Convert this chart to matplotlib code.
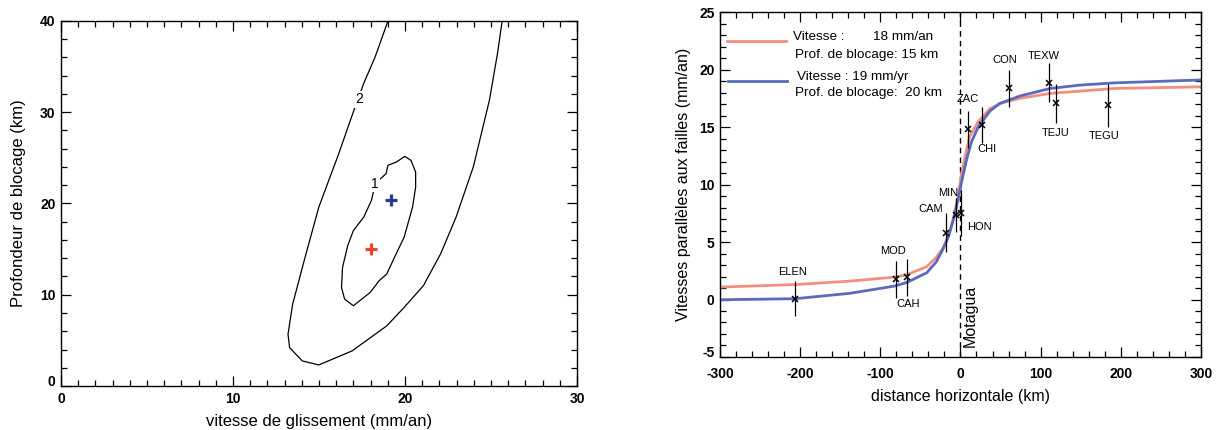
import matplotlib
matplotlib.use('Agg')
import matplotlib.pyplot as plt
import matplotlib.transforms as mtransforms
from matplotlib.ticker import MultipleLocator

plt.rcParams['font.family'] = ['Liberation Sans', 'DejaVu Sans']
plt.rcParams['axes.unicode_minus'] = False

# --- left panel: misfit contours, slip rate vs locking depth ---
contour2_x = [19.01, 18.27, 17.60, 16.93, 16.15, 14.99, 14.14, 13.47, 13.20, 13.29,
              14.03, 14.99, 16.93, 18.94, 19.95, 21.07, 22.07, 22.97, 23.97, 24.91,
              25.38, 25.65]
contour2_y = [40.0, 36.08, 33.15, 29.67, 25.46, 19.6, 13.74, 8.97, 5.68, 4.21,
              2.75, 2.31, 3.85, 6.59, 8.61, 10.99, 14.47, 18.5, 23.99, 31.32,
              36.45, 40.0]
contour1_x = [18.27, 18.90, 19.01, 19.50, 19.99, 20.35, 20.62, 20.62, 20.44, 19.95,
              19.39, 18.94, 18.50, 17.98, 17.00, 16.49, 16.31, 16.37, 16.67, 17.00,
              17.60, 18.05, 18.27]
contour1_y = [22.2, 23.26, 24.18, 24.54, 25.16, 24.72, 23.44, 21.79, 19.6, 16.3,
              14.1, 12.27, 11.54, 10.26, 8.79, 9.52, 10.8, 13.0, 15.38, 17.03,
              18.5, 20.33, 22.2]
best_rate = [18.0, 19.2]
best_depth = [15.0, 20.4]

# --- right panel: fault-parallel velocities ---
model15_x = [-300, -206, -138, -82, -67, -42, -30, -22, -15, -9, -3, 1, 5.6,
             11.6, 22, 36.8, 49, 74, 112, 149, 193, 300]
model15_v = [1.08, 1.3, 1.6, 1.95, 2.15, 2.86, 3.67, 4.44, 5.5, 7.0, 9.0, 10.8, 12.4,
             14.2, 15.45, 16.6, 17.05, 17.5, 17.93, 18.13, 18.36, 18.5]
model20_x = [-300, -206, -138, -82, -67, -42, -30, -22, -15, -9, -3, 1, 7.5,
             13.7, 22, 36.8, 49, 74, 112, 149, 193, 300]
model20_v = [-0.02, 0.07, 0.54, 1.17, 1.48, 2.33, 3.29, 4.36, 5.46, 6.91, 8.65, 10.1,
             12.13, 13.7, 15.0, 16.4, 17.05, 17.7, 18.36, 18.65, 18.85, 19.1]

station_names = ['ELEN', 'MOD', 'CAH', 'CAM', 'MIN', 'HON', 'ZAC', 'CHI',
                 'CON', 'TEXW', 'TEJU', 'TEGU']
station_x = [-206.4, -81.0, -66.3, -18.1, -6.0, 0.6, 9.7, 26.4, 60.9, 110.8, 119.1, 183.6]
station_v = [0.07, 1.75, 1.93, 5.81, 7.35, 7.5, 14.8, 15.17, 18.36, 18.85, 17.06, 16.9]
station_err = [1.52, 1.6, 1.6, 1.7, 1.5, 2.0, 1.6, 1.55, 1.57, 1.7, 1.68, 1.85]

red = '#f29080'
blue = '#5a6bbd'

fig = plt.figure(figsize=(12.17, 4.30), dpi=100)

def idl_axes(ax, xmaj, xmin, ymaj, ymin, xpad=4):
    ax.xaxis.set_major_locator(MultipleLocator(xmaj))
    ax.xaxis.set_minor_locator(MultipleLocator(xmin))
    ax.yaxis.set_major_locator(MultipleLocator(ymaj))
    ax.yaxis.set_minor_locator(MultipleLocator(ymin))
    ax.tick_params(which='both', direction='in', top=True, right=True, width=0.9)
    ax.tick_params(which='major', length=7.5, labelsize=10, pad=4)
    ax.tick_params(axis='x', which='major', pad=xpad)
    ax.tick_params(which='minor', length=4)
    for lab in ax.get_xticklabels() + ax.get_yticklabels():
        lab.set_fontweight('bold')
    for sp in ax.spines.values():
        sp.set_linewidth(1.0)

# left panel
ax1 = fig.add_axes([0.0501, 0.1023, 0.424, 0.849])
ax1.plot(contour2_x, contour2_y, color='black', lw=0.9)
ax1.plot(contour1_x, contour1_y, color='black', lw=0.9)
ax1.text(17.31, 31.4, '2', fontsize=10, ha='center', va='center',
         bbox=dict(facecolor='white', edgecolor='none', pad=1))
ax1.text(18.27, 22.16, '1', fontsize=10, ha='center', va='center',
         bbox=dict(facecolor='white', edgecolor='none', pad=1))
ax1.plot(best_rate[0], best_depth[0], marker='+', ms=8.5, mew=2.3, color='#e8452c')
ax1.plot(best_rate[1], best_depth[1], marker='+', ms=8.5, mew=2.3, color='#2b3990')
ax1.set_xlim(0, 30)
ax1.set_ylim(0, 40)
idl_axes(ax1, 10, 1, 10, 2)
ax1.set_xlabel('vitesse de glissement (mm/an)', fontsize=12, labelpad=6)
ax1.set_ylabel('Profondeur de blocage (km)', fontsize=12, labelpad=10)

# right panel
ax2 = fig.add_axes([0.5916, 0.1698, 0.3952, 0.802])
ax2.axvline(0, color='black', lw=1, ls=(0, (4, 3)))
ax2.plot(model15_x, model15_v, color=red, lw=2)
ax2.plot(model20_x, model20_v, color=blue, lw=2)
ax2.errorbar(station_x, station_v, yerr=station_err, fmt='x', color='black',
             ms=4.5, mew=1.1, elinewidth=0.9, capsize=0, zorder=5)

label_offset = {'ELEN': (-2.6, 2.35), 'MOD': (-3, 2.5), 'CAH': (1.3, -2.3),
                'CAM': (-19, 2.1), 'MIN': (-9, 1.9), 'HON': (23.7, -1.2),
                'ZAC': (0, 2.6), 'CHI': (6.6, -2.1), 'CON': (-6, 2.5),
                'TEXW': (-7, 2.35), 'TEJU': (-1, -2.56), 'TEGU': (-4.6, -2.66)}
for name, sx, sv in zip(station_names, station_x, station_v):
    dx, dy = label_offset[name]
    ax2.text(sx + dx, sv + dy, name, fontsize=8, ha='center', va='center')

ax2.text(12, -1.45, 'Motagua', rotation=90, fontsize=11.5, ha='center', va='center')

# hand-made legend
ax2.plot([-291.6, -217.7], [22.5, 22.5], color=red, lw=2)
ax2.text(-209.3, 22.8, 'Vitesse :', fontsize=9.7, va='center')
ax2.text(-109.5, 22.8, '18 mm/an', fontsize=9.7, va='center')
ax2.text(-206.4, 21.3, 'Prof. de blocage: 15 km', fontsize=9.7, va='center')
ax2.plot([-289.6, -216.8], [19.03, 19.03], color=blue, lw=2)
ax2.text(-204.3, 19.37, 'Vitesse : 19 mm/yr', fontsize=9.7, va='center')
ax2.text(-206.4, 17.93, 'Prof. de blocage:  20 km', fontsize=9.7, va='center')

ax2.set_xlim(-300, 300)
ax2.set_ylim(-5, 25)
idl_axes(ax2, 100, 20, 5, 1, xpad=7)
ax2.set_xlabel('distance horizontale (km)', fontsize=11.5, labelpad=6)
ax2.set_ylabel('Vitesses parallèles aux failles (mm/an)', fontsize=11.5, labelpad=6)

# IDL lifts the lowest y label a little above its tick
fig.canvas.draw()
lift = mtransforms.ScaledTranslation(0, 4 / 72, fig.dpi_scale_trans)
for ax in (ax1, ax2):
    bottom = ax.get_ylim()[0]
    for tick in ax.yaxis.get_major_ticks():
        if abs(tick.get_loc() - bottom) < 1e-9:
            tick.label1.set_transform(tick.label1.get_transform() + lift)

fig.savefig('out.png', dpi=100)
